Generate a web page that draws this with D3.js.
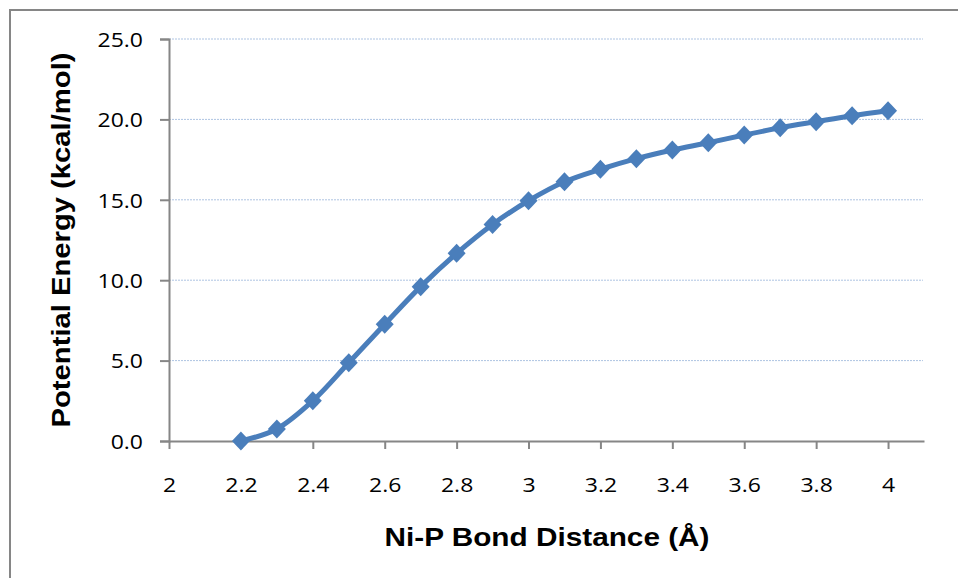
<!DOCTYPE html>
<html><head><meta charset="utf-8">
<script src="https://cdn.jsdelivr.net/npm/d3@7"></script>
<style>body{margin:0;background:#fff}svg{display:block}</style>
</head><body>
<svg id="c" width="958" height="578"></svg>
<script>
const distances = [2.2,2.3,2.4,2.5,2.6,2.7,2.8,2.9,3.0,3.1,3.2,3.3,3.4,3.5,3.6,3.7,3.8,3.9,4.0];
const energies  = [0.0,0.75,2.5,4.87,7.26,9.6,11.67,13.47,14.94,16.12,16.9,17.56,18.1,18.55,19.03,19.48,19.86,20.23,20.54];
const xTicks = [2,2.2,2.4,2.6,2.8,3,3.2,3.4,3.6,3.8,4];
const yTicks = [0,5,10,15,20,25];
const xTitle = "Ni-P Bond Distance (Å)";
const yTitle = "Potential Energy (kcal/mol)";

(function(){
const svg = d3.select("#c");
const W = 958, H = 578;
const mLeft = 169, mRight = 924, mTop = 39, mBottom = 441;
const x = d3.scaleLinear().domain([2, 4.1]).range([mLeft, mRight]);
const y = d3.scaleLinear().domain([0, 25]).range([mBottom, mTop]);
const axisColor = "#868686";
const blue = "#4a7ebb";

// outer frame
svg.append("path").attr("d", `M10,${H+5} L10,10 L${W+5},10`)
  .attr("fill","none").attr("stroke", axisColor).attr("stroke-width",2);

// gridlines
svg.append("g").selectAll("line").data(yTicks.filter(d => d > 0)).join("line")
  .attr("x1", mLeft).attr("x2", 923).attr("y1", d => y(d)).attr("y2", d => y(d))
  .attr("stroke", "#aec4e2").attr("stroke-width", 1).attr("stroke-dasharray", "2,1");

const tickFont = "'Open Sans', sans-serif";

// y axis
const yAxis = svg.append("g").attr("transform", `translate(${mLeft},0)`)
  .call(d3.axisLeft(y).tickValues(yTicks).tickFormat(d3.format(".1f")).tickSize(9).tickPadding(0));
yAxis.select(".domain").attr("stroke", axisColor).attr("stroke-width", 2);
yAxis.selectAll(".tick line").attr("stroke", axisColor).attr("stroke-width", 2);
yAxis.selectAll(".tick text").attr("x", -26).attr("dy", "0.36em")
  .attr("font-family", tickFont).attr("font-size", 20).attr("fill", "#000")
  .attr("transform", "translate(-26,0) scale(1.15,1) translate(26,0)");

// x axis
const xAxis = svg.append("g").attr("transform", `translate(0,${mBottom})`)
  .call(d3.axisBottom(x).tickValues(xTicks).tickFormat(d => String(d)).tickSize(8).tickSizeOuter(0));
xAxis.select(".domain").attr("stroke", axisColor).attr("stroke-width", 2);
xAxis.selectAll(".tick line").attr("stroke", axisColor).attr("stroke-width", 2);
xAxis.selectAll(".tick text").attr("y", 51).attr("dy", 0)
  .attr("font-family", tickFont).attr("font-size", 20).attr("fill", "#000")
  .attr("transform", "scale(1.15,1)");

// line
const pts = distances.map((d, i) => [d, energies[i]]);
svg.append("path").datum(pts)
  .attr("d", d3.line().x(d => x(d[0])).y(d => y(d[1])).curve(d3.curveCatmullRom))
  .attr("fill", "none").attr("stroke", blue).attr("stroke-width", 5).attr("stroke-linejoin","round");

// markers
svg.append("g").selectAll("path").data(pts).join("path")
  .attr("transform", d => `translate(${x(d[0])},${y(d[1])})`)
  .attr("d", "M0,-9.5 L9,0 L0,9.5 L-9,0 Z")
  .attr("fill", blue);

// titles
svg.append("text").attr("x", 547).attr("y", 546).attr("text-anchor", "middle")
  .attr("font-family", "'Liberation Sans', Arial, sans-serif").attr("font-weight", "bold")
  .attr("font-size", 25).attr("textLength", 325).attr("lengthAdjust", "spacingAndGlyphs")
  .text(xTitle);
svg.append("text").attr("transform", "translate(70,240) rotate(-90)").attr("text-anchor", "middle")
  .attr("font-family", "'Liberation Sans', Arial, sans-serif").attr("font-weight", "bold")
  .attr("font-size", 25).attr("textLength", 375).attr("lengthAdjust", "spacingAndGlyphs")
  .text(yTitle);
})();
</script>
</body></html>
